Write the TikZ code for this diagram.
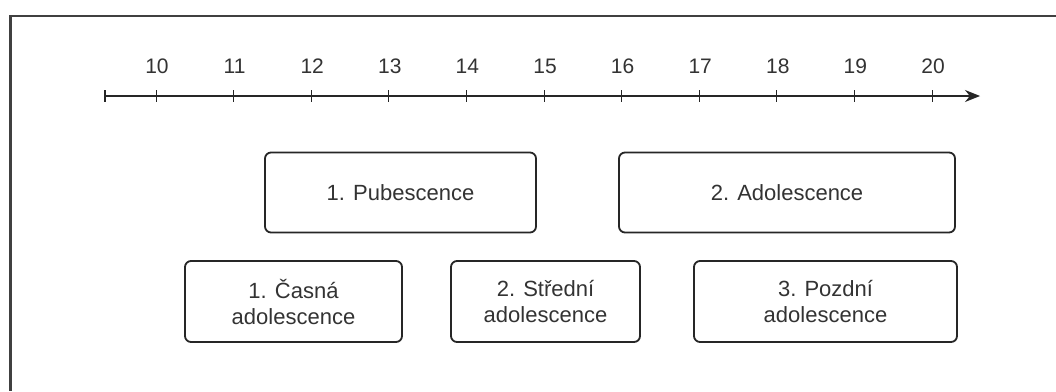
\documentclass[tikz,border=0pt]{standalone}
\usepackage{fontspec}
\setmainfont{Liberation Sans}
\usetikzlibrary{arrows.meta}
\begin{document}
\begin{tikzpicture}[x=1pt,y=-1pt,
  phase/.style={draw=black!85, line width=1.8pt, rounded corners=6pt, text=black!80,
    align=center, font=\fontsize{22}{26}\selectfont, inner sep=0pt},
  axisline/.style={draw=black!85, line width=1.7pt},
  tickmark/.style={draw=black!85, line width=1pt},
  ticklabel/.style={text=black!80, font=\fontsize{21}{24}\selectfont, inner sep=0pt},
  frameline/.style={draw=black!75, line width=2.5pt}]
\useasboundingbox (0,0) rectangle (1056,391);
\fill[white] (0,0) rectangle (1056,391);
\draw[frameline] (1056,16) -- (10.5,16) -- (10.5,391);
% axis
\coordinate (axs) at (105,96);
\coordinate (axe) at (980,96);
\draw[axisline, -{Stealth[length=15pt,width=12pt]}] (axs) -- (axe);
\draw[axisline] (105,90) -- (105,102);
\foreach \i [count=\k from 0] in {10,...,20}{
  \pgfmathsetmacro{\xx}{156+77.6*\k}
  \draw[tickmark] (\xx,90) -- (\xx,102);
  \node[ticklabel] (t\i) at (\xx+1,66) {\i};
}
% phases
\node[phase, minimum width=271pt, minimum height=80pt] (pub) at (400.5,192.5) {1. Pubescence};
\node[phase, minimum width=336pt, minimum height=80pt] (ado) at (787,192.5) {2. Adolescence};
\node[phase, minimum width=217pt, minimum height=81pt] (cas) at (293.5,301.5) {1. Časná\\adolescence};
\node[phase, minimum width=189pt, minimum height=81pt] (str) at (545.5,301.5) {2. Střední\\adolescence};
\node[phase, minimum width=263pt, minimum height=81pt] (poz) at (825.5,301.5) {3. Pozdní\\adolescence};
\end{tikzpicture}
\end{document}
